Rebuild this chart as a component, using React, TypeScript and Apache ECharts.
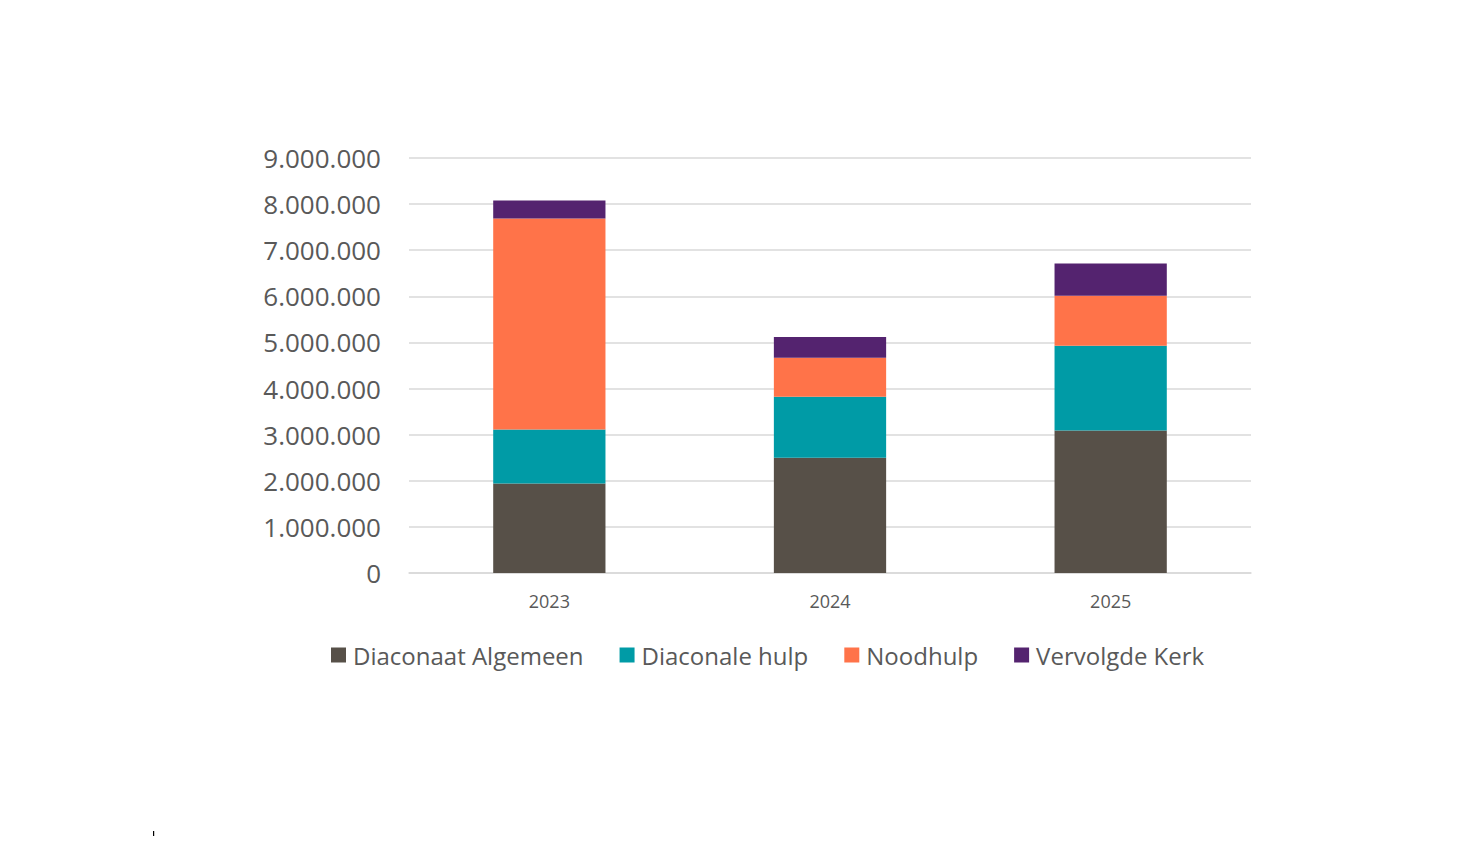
import React, { useEffect, useRef } from "react";
import * as echarts from "echarts";

const categories = ["2023", "2024", "2025"];
const diaconaatAlgemeen = [1940000, 2500000, 3090000];
const diaconaleHulp = [1170000, 1320000, 1840000];
const noodhulp = [4580000, 850000, 1080000];
const vervolgdeKerk = [390000, 450000, 700000];
const yTicks = [0, 1000000, 9000000];

const seriesNames = ["Diaconaat Algemeen", "Diaconale hulp", "Noodhulp", "Vervolgde Kerk"];
const seriesColors = ["#575048", "#009BA6", "#FF7349", "#54236F"];

function fmt(v: number): string {
  return String(Math.round(v)).replace(/\B(?=(\d{3})+(?!\d))/g, ".");
}

export default function App() {
  const ref = useRef<HTMLDivElement>(null);
  useEffect(() => {
    if (!ref.current) return;
    const chart = echarts.init(ref.current, null, { renderer: "svg" });
    const data = [diaconaatAlgemeen, diaconaleHulp, noodhulp, vervolgdeKerk];
    chart.setOption({
      animation: false,
      color: seriesColors,
      grid: { left: 401, top: 150, width: 842, height: 415, containLabel: false },
      legend: {
        data: seriesNames,
        top: 630,
        left: 318,
        itemWidth: 15,
        itemHeight: 15,
        itemGap: 36,
        icon: "rect",
        textStyle: { fontFamily: "Open Sans", fontSize: 24, color: "#595959", padding: [0, 0, 0, 2] },
      },
      xAxis: {
        type: "category",
        data: categories,
        axisLine: { lineStyle: { color: "#D9D9D9", width: 1.5 } },
        axisTick: { show: false },
        axisLabel: { fontFamily: "Open Sans", fontSize: 18, color: "#595959", margin: 19 },
      },
      yAxis: {
        type: "value",
        min: yTicks[0],
        max: yTicks[2],
        interval: yTicks[1],
        axisLine: { show: false },
        axisTick: { show: false },
        splitLine: { lineStyle: { color: "#D9D9D9", width: 1.5 } },
        axisLabel: {
          fontFamily: "Open Sans",
          fontSize: 26,
          color: "#595959",
          margin: 28,
          formatter: (v: number) => fmt(v),
        },
      },
      series: seriesNames.map((name, i) => ({
        name,
        type: "bar",
        stack: "total",
        barWidth: "40%",
        data: data[i],
        itemStyle: { color: seriesColors[i] },
      })),
      graphic: [
        {
          type: "rect",
          shape: { x: 145, y: 823, width: 1.2, height: 12 },
          style: { fill: "#000" },
        },
      ],
    });
    return () => chart.dispose();
  }, []);
  return <div ref={ref} style={{ width: 1444, height: 836, marginBottom: -8 }} />;
}
